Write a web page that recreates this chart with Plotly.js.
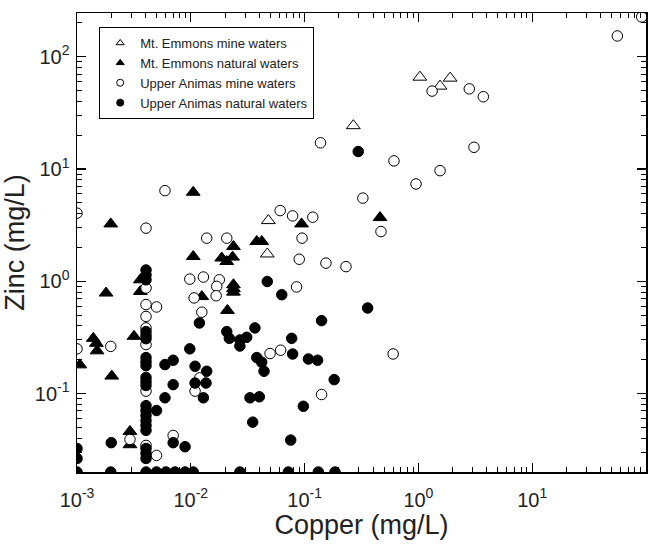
<!DOCTYPE html>
<html>
<head>
<meta charset="utf-8">
<script src="https://cdn.plot.ly/plotly-3.0.1.min.js"></script>
<style>html,body{margin:0;padding:0;background:#fff;}#chart{width:659px;height:545px;}</style>
</head>
<body>
<div id="chart"></div>
<script>
// Mt. Emmons mine waters (open triangles)
const emMineCu = [1.03, 1.55, 1.9, 0.268, 0.048, 0.047];
const emMineZn = [65.7, 54.7, 64.4, 24.3, 3.47, 1.75];

// Mt. Emmons natural waters (filled triangles)
const emNatCu = [0.0105, 0.00198, 0.0105, 0.0237, 0.038, 0.042, 0.0187, 0.0207, 0.0233, 0.0237, 0.0237, 0.0237,
  0.0125, 0.021, 0.0018, 0.0036, 0.0036, 0.00139, 0.00148, 0.0015, 0.00317, 0.00106, 0.00202, 0.00292, 0.00292,
  0.094, 0.46];
const emNatZn = [6.2, 3.24, 1.66, 2.04, 2.26, 2.26, 1.61, 1.50, 1.64, 0.93, 0.86, 0.80,
  0.73, 0.55, 0.785, 1.03, 0.81, 0.31, 0.28, 0.24, 0.323, 0.18, 0.143, 0.046, 0.035,
  3.24, 3.69];

// Upper Animas mine waters (open circles)
const uaMineCu = [91.6, 56, 1.32, 2.8, 3.72, 3.08, 1.55, 0.953, 0.138, 0.61, 0.325, 0.061, 0.0785, 0.118, 0.469,
  0.0207, 0.095, 0.0897, 0.154, 0.231, 0.0138, 0.0098, 0.0129, 0.0178, 0.0169, 0.0167, 0.0107, 0.085, 0.0125,
  0.001, 0.00404, 0.00593, 0.00404, 0.00404, 0.00404, 0.005, 0.00404, 0.00404, 0.00198, 0.001, 0.00404,
  0.012, 0.0109, 0.00292, 0.00404, 0.005, 0.007, 0.0497, 0.0616, 0.60, 0.141];
const uaMineZn = [226, 153, 49.4, 51.7, 44, 15.6, 9.66, 7.35, 17.1, 11.8, 5.5, 4.26, 3.82, 3.72, 2.77,
  2.42, 2.42, 1.57, 1.45, 1.35, 2.42, 1.045, 1.09, 1.03, 0.90, 0.743, 0.71, 0.89, 0.53,
  4.04, 2.97, 6.41, 0.87, 0.62, 0.486, 0.59, 0.384, 0.273, 0.263, 0.25, 0.105,
  0.138, 0.105, 0.039, 0.0345, 0.0281, 0.0423, 0.227, 0.243, 0.225, 0.098];

// Upper Animas natural waters (filled circles)
const uaNatCu = [0.00404, 0.00404, 0.00404, 0.00404, 0.00404, 0.00404, 0.00404, 0.00404, 0.00404, 0.00404, 0.00404,
  0.00404, 0.00404, 0.00404, 0.00404, 0.00404, 0.00404, 0.00404, 0.00404, 0.00404, 0.00404, 0.00404,
  0.005, 0.00593, 0.007, 0.0098, 0.007, 0.00593, 0.0109, 0.0138, 0.0136, 0.0109, 0.0129, 0.002, 0.007, 0.0089,
  0.001, 0.001, 0.0331, 0.035, 0.038, 0.0207, 0.0218, 0.027, 0.031, 0.0366, 0.027, 0.0119, 0.047, 0.063,
  0.358, 0.141, 0.077, 0.0785, 0.042, 0.044, 0.108, 0.130, 0.182, 0.040, 0.0975, 0.0755, 0.296,
  0.001, 0.00198, 0.005, 0.00605, 0.00726, 0.0089, 0.0105, 0.027, 0.072, 0.132, 0.185];
const uaNatZn = [1.26, 1.14, 1.03, 0.356, 0.328, 0.308, 0.209, 0.192, 0.177, 0.139, 0.128,
  0.118, 0.078, 0.0706, 0.0637, 0.0575, 0.052, 0.047, 0.0324, 0.0293, 0.0264, 0.02,
  0.0706, 0.181, 0.198, 0.25, 0.12, 0.0916, 0.175, 0.158, 0.124, 0.124, 0.0916, 0.0365, 0.0365, 0.0336,
  0.0324, 0.0264, 0.0916, 0.0556, 0.209, 0.356, 0.31, 0.30, 0.317, 0.384, 0.265, 0.425, 0.995, 0.759,
  0.578, 0.446, 0.31, 0.225, 0.19, 0.158, 0.203, 0.198, 0.133, 0.0935, 0.077, 0.0385, 14.3,
  0.02, 0.02, 0.02, 0.02, 0.02, 0.02, 0.02, 0.02, 0.02, 0.02, 0.02];

const seriesNames = ['Mt. Emmons mine waters', 'Mt. Emmons natural waters', 'Upper Animas mine waters', 'Upper Animas natural waters'];

const xTickVals = [0.001, 0.01, 0.1, 1, 10, 100];
const xTickText = ['10<sup>-3</sup>', '10<sup>-2</sup>', '10<sup>-1</sup>', '10<sup>0</sup>', '10<sup>1</sup>', '10<sup>2</sup>'];
const yTickVals = [0.1, 1, 10, 100];
const yTickText = ['10<sup>-1</sup>', '10<sup>0</sup>', '10<sup>1</sup>', '10<sup>2</sup>'];

function minorTicks(lo, hi) {
  const out = [];
  for (let e = lo; e <= hi; e++) {
    for (let m = 2; m <= 9; m++) out.push(m * Math.pow(10, e));
  }
  return out;
}

const triSize = 12, circSize = 10.5, lw = 1;
const mk = (sym, fill, size) => ({symbol: sym, size: size, color: fill, line: {color: '#000', width: lw}});

const dataTraces = [
  {x: emMineCu, y: emMineZn, marker: mk('triangle-up', '#fff', triSize)},
  {x: emNatCu, y: emNatZn, marker: mk('triangle-up', '#000', triSize)},
  {x: uaMineCu, y: uaMineZn, marker: mk('circle', '#fff', circSize)},
  {x: uaNatCu, y: uaNatZn, marker: mk('circle', '#000', circSize)}
].map(t => Object.assign(t, {type: 'scatter', mode: 'markers', showlegend: false, hoverinfo: 'skip'}));

const legendSyms = [['triangle-up', '#fff'], ['triangle-up', '#000'], ['circle', '#fff'], ['circle', '#000']];
const legendTraces = seriesNames.map((n, i) => ({
  type: 'scatter', mode: 'markers', x: [null], y: [null], name: n,
  marker: {symbol: legendSyms[i][0], color: legendSyms[i][1], size: 7, line: {color: '#000', width: 1}}
}));

const axisCommon = {
  type: 'log', showline: true, linecolor: '#000', linewidth: 1.5, mirror: 'ticks',
  ticks: 'inside', ticklen: 9, tickwidth: 1.2, tickcolor: '#000', showgrid: false, zeroline: false,
  tickfont: {family: 'Liberation Sans, Arial, sans-serif', size: 20, color: '#222'},
  tickmode: 'array'
};

const layout = {
  width: 659, height: 545,
  margin: {l: 77, r: 13, t: 13, b: 73},
  paper_bgcolor: '#fff', plot_bgcolor: '#fff',
  font: {family: 'Liberation Sans, Arial, sans-serif', color: '#222'},
  xaxis: Object.assign({}, axisCommon, {
    range: [-3, 2], tickvals: xTickVals, ticktext: xTickText, ticklabelstandoff: 9,
    minor: {tickvals: minorTicks(-3, 1), ticks: 'inside', ticklen: 5, tickwidth: 1, tickcolor: '#000'},
    title: {text: 'Copper (mg/L)', font: {size: 27, color: '#222'}, standoff: 5}
  }),
  yaxis: Object.assign({}, axisCommon, {
    range: [Math.log10(0.02), Math.log10(245)], tickvals: yTickVals, ticktext: yTickText, ticklabelstandoff: 2,
    minor: {tickvals: minorTicks(-2, 2), ticks: 'inside', ticklen: 5, tickwidth: 1, tickcolor: '#000'},
    title: {text: 'Zinc (mg/L)', font: {size: 27, color: '#222'}, standoff: 2}
  }),
  showlegend: true,
  legend: {
    x: 0.039, y: 0.9695, xanchor: 'left', yanchor: 'top',
    bgcolor: '#fff', bordercolor: '#000', borderwidth: 1,
    font: {size: 13, color: '#222'}, tracegroupgap: 0
  }
};

Plotly.newPlot('chart', dataTraces.concat(legendTraces), layout, {displayModeBar: false, staticPlot: true});
</script>
</body>
</html>
